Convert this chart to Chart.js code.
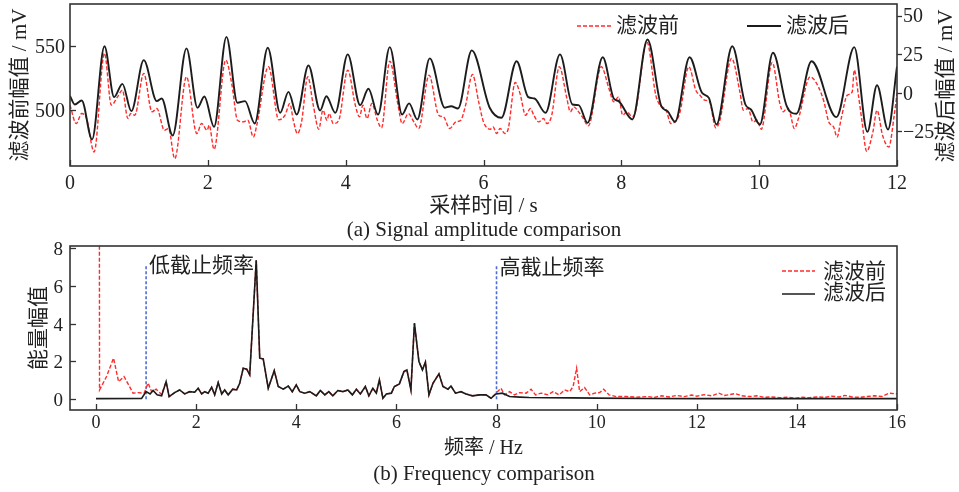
<!DOCTYPE html>
<html><head><meta charset="utf-8">
<script src="https://cdn.jsdelivr.net/npm/chart.js@4.4.1/dist/chart.umd.min.js"></script>
<style>
body{margin:0;background:#fff;width:959px;height:492px;overflow:hidden;position:relative}
canvas{position:absolute;left:0}
#c1{top:0}
#c2{top:238px}
.cap{position:absolute;width:400px;text-align:center;font-family:"Liberation Serif",serif;font-size:21px;color:#222;line-height:24px;white-space:nowrap}
</style></head><body>
<canvas id="c1" width="959" height="240"></canvas>
<canvas id="c2" width="959" height="254"></canvas>
<div class="cap" id="capA" style="left:284px;top:217px">(a) Signal amplitude comparison</div>
<div class="cap" id="capB" style="left:284px;top:461px">(b) Frequency comparison</div>
<script>
// ---------- data: (a) signal amplitude ----------
const SERIES_NAMES = ['滤波前', '滤波后'];
const TIME_FILT = [0,0.07,0.17,0.32,0.50,0.64,0.76,0.89,1.07,1.26,1.33,1.49,1.69,1.85,1.95,2.09,2.27,2.43,2.54,2.68,2.87,3.05,3.17,3.29,3.46,3.63,3.72,3.85,4.03,4.21,4.33,4.47,4.64,4.82,4.92,5.04,5.22,5.44,5.53,5.63,5.83,6.09,6.26,6.48,6.65,6.74,6.90,7.11,7.29,7.38,7.51,7.73,7.89,7.96,8.16,8.38,8.58,8.67,8.78,8.99,9.17,9.27,9.38,9.61,9.80,9.88,10.01,10.20,10.40,10.54,10.76,11.12,11.38,11.57,11.71,11.87,12.0];
const AMP_FILT = [-2,-7.6,-5,-30.3,30.2,-2.8,5.8,-11.9,21.2,-5.4,-3.7,-27.7,28.8,-9.7,-2.4,-22.1,36.3,-6.5,-5.4,-19.9,29.2,-13,0.6,-14.1,17.7,-11.5,-2.2,-13,24.9,-8,2.6,-14.1,29.6,-14.1,-6.9,-17.3,22.3,-9.7,-8.7,-10.2,27.5,-9.7,-16.2,20.5,-2.8,-3.7,-13,24.9,-7.6,-8,-19.5,23.1,-3.7,-5.4,-17.3,34.6,-8.7,-11.9,-18.8,23.1,0,-3.3,-20.6,30.2,-7.6,-10.8,-20.6,26,-8.7,-13.6,20.5,-15.8,29.6,-25.3,4.9,-23.8,17];
const TIME_RAW = [0,0.09,0.17,0.24,0.35,0.50,0.60,0.69,0.76,0.84,0.88,0.94,1.07,1.19,1.26,1.37,1.43,1.52,1.69,1.84,1.91,1.99,2.02,2.09,2.26,2.35,2.43,2.51,2.58,2.66,2.71,2.88,3.03,3.12,3.19,3.24,3.30,3.36,3.45,3.53,3.61,3.67,3.73,3.76,3.82,3.90,4.03,4.14,4.20,4.25,4.31,4.38,4.46,4.52,4.64,4.76,4.82,4.91,4.99,5.06,5.21,5.35,5.42,5.51,5.60,5.67,5.74,5.84,5.93,6.00,6.10,6.14,6.19,6.24,6.31,6.36,6.46,6.53,6.61,6.68,6.73,6.80,6.87,6.92,6.99,7.10,7.21,7.26,7.31,7.38,7.45,7.52,7.71,7.82,7.89,7.96,8.02,8.08,8.16,8.21,8.37,8.50,8.56,8.65,8.72,8.80,8.85,8.98,9.08,9.14,9.21,9.28,9.37,9.43,9.60,9.72,9.77,9.84,9.91,9.97,10.03,10.19,10.30,10.35,10.40,10.45,10.51,10.57,10.74,10.86,10.94,11.01,11.08,11.13,11.19,11.28,11.35,11.38,11.44,11.49,11.56,11.65,11.71,11.79,11.88,11.96,12.0];
const AMP_RAW = [503.9,489.6,497.4,493.5,467.6,544.1,503.9,510.3,515.6,493.5,497.4,496.1,528.6,498.7,501.3,484.4,485.8,462.4,525.9,481.9,489.7,484.4,488.3,469.7,538.9,519.5,492.2,490.9,492.2,479.2,488.3,533.7,492.5,496.1,505.2,492.2,481.9,490.9,525.9,503.9,485.2,500,492.2,497.4,489.6,492.2,531.1,503.9,494.8,503.9,493.5,505.2,492.2,486.3,538.1,503.9,489.6,497.4,490.9,485.8,527.2,496.1,494.8,485.8,490.9,492.2,503.9,527.8,506.5,490.9,485.2,487,481.9,485.8,481.9,485.8,521.5,513,496.1,501.3,496.1,490.9,493.5,489.6,496.1,533.7,509.1,498.7,502.6,498.7,493.5,487.8,533.7,516.9,506.5,510.3,496.1,498.7,494.8,500,553.1,511.7,503.9,500,489.6,492.2,498.2,533.7,515.6,511.7,507.8,506.5,486.3,492.2,540.2,514.2,500,501.3,490.9,492.2,485.2,537.1,505.2,498.7,501.3,497.4,485.8,493.5,525.9,518.1,506.5,490.9,487,479.2,493.5,511.7,514.2,531.1,511.7,492.2,468.1,483.1,500,480.6,471.4,496.1,513];
const TICKS_TIME = [0,2,4,6,8,10,12];
const TICKS_RAW = [500,550];
const TICKS_FILT = [-25,0,25,50];

// ---------- data: (b) frequency ----------
const FREQ_FILT = [0,0.91,1.0,1.08,1.14,1.22,1.31,1.40,1.46,1.57,1.67,1.77,1.87,1.97,2.04,2.11,2.17,2.24,2.31,2.37,2.44,2.51,2.57,2.64,2.73,2.81,2.87,2.94,3.01,3.07,3.20,3.27,3.34,3.44,3.56,3.64,3.74,3.84,3.92,4.00,4.07,4.17,4.27,4.40,4.48,4.57,4.65,4.73,4.83,4.93,5.03,5.12,5.20,5.28,5.38,5.45,5.53,5.60,5.66,5.73,5.80,5.90,5.96,6.06,6.15,6.21,6.29,6.36,6.45,6.52,6.58,6.65,6.73,6.85,6.93,7.03,7.09,7.18,7.29,7.39,7.52,7.66,7.79,7.89,7.99,8.12,8.26,8.46,8.65,9.0,9.5,10.0,11.0,12.0,14.0,16.0];
const ENERGY_FILT = [0.03,0.04,0.40,0.28,0.46,0.23,0.18,0.93,0.14,0.35,0.49,0.28,0.40,0.37,0.58,0.28,0.40,0.32,0.63,0.23,0.88,0.28,0.49,0.23,0.53,0.49,0.84,1.64,1.59,1.29,7.35,2.17,2.13,0.58,1.51,0.67,0.53,0.70,0.40,0.76,0.40,0.32,0.40,0.18,0.46,0.23,0.40,0.18,0.46,0.40,0.49,0.23,0.53,0.28,0.67,0.18,0.58,0.32,1.02,0.05,0.28,0.32,0.67,0.81,1.46,1.55,0.49,4.02,1.99,1.55,1.96,0.23,0.84,1.34,0.67,0.53,0.70,0.32,0.40,0.28,0.18,0.23,0.23,0.05,0.28,0.32,0.14,0.11,0.09,0.08,0.07,0.06,0.04,0.03,0.03,0.03];
const FREQ_RAW = [0.06,0.07,0.21,0.35,0.45,0.56,0.64,0.74,0.84,0.96,1.04,1.11,1.20,1.31,1.40,1.46,1.57,1.67,1.77,1.87,1.97,2.04,2.11,2.17,2.24,2.31,2.37,2.44,2.51,2.57,2.64,2.73,2.81,2.87,2.94,3.01,3.07,3.20,3.27,3.34,3.44,3.56,3.64,3.74,3.84,3.92,4.00,4.07,4.17,4.27,4.40,4.48,4.57,4.65,4.73,4.83,4.93,5.03,5.12,5.20,5.28,5.38,5.45,5.53,5.60,5.66,5.73,5.80,5.90,5.96,6.06,6.15,6.21,6.29,6.36,6.45,6.52,6.58,6.65,6.73,6.85,6.93,7.03,7.09,7.18,7.29,7.39,7.52,7.66,7.79,7.89,7.99,8.09,8.16,8.26,8.36,8.46,8.59,8.69,8.78,8.89,9.03,9.13,9.25,9.36,9.46,9.53,9.60,9.66,9.76,9.86,9.96,10.06,10.14,10.25,10.39,10.59,10.79,11.02,11.15,11.3,11.45,11.6,11.75,11.9,12.0,12.15,12.3,12.44,12.55,12.65,12.77,12.9,13.05,13.2,13.35,13.5,13.65,13.8,13.97,14.1,14.25,14.4,14.55,14.7,14.85,14.96,15.1,15.25,15.4,15.55,15.7,15.84,16.0];
const ENERGY_RAW = [30,0.49,1.2,2.17,0.93,1.2,0.81,0.32,0.35,0.32,0.85,0.40,0.53,0.25,0.93,0.14,0.35,0.49,0.28,0.40,0.37,0.58,0.28,0.40,0.32,0.63,0.23,0.88,0.28,0.49,0.23,0.53,0.49,0.84,1.64,1.59,1.29,7.35,2.17,2.13,0.58,1.51,0.67,0.53,0.70,0.40,0.76,0.40,0.32,0.40,0.18,0.46,0.23,0.40,0.18,0.46,0.40,0.49,0.23,0.53,0.28,0.67,0.18,0.58,0.32,1.02,0.05,0.28,0.32,0.67,0.81,1.46,1.55,0.49,4.02,1.99,1.55,1.96,0.23,0.84,1.34,0.67,0.53,0.70,0.32,0.40,0.28,0.18,0.23,0.23,0.05,0.32,0.58,0.23,0.40,0.23,0.35,0.32,0.53,0.23,0.32,0.23,0.40,0.23,0.49,0.40,0.67,1.64,0.40,0.62,0.23,0.32,0.35,0.53,0.23,0.14,0.14,0.11,0.14,0.10,0.18,0.12,0.20,0.14,0.22,0.16,0.24,0.18,0.32,0.20,0.24,0.30,0.18,0.14,0.18,0.10,0.12,0.08,0.10,0.06,0.10,0.08,0.12,0.10,0.16,0.12,0.20,0.12,0.10,0.14,0.18,0.14,0.32,0.28];
const TICKS_FREQ = [0,2,4,6,8,10,12,14,16];
const TICKS_ENERGY = [0,2,4,6,8];
const CUTOFF_FREQ = [1, 8];
const CUTOFF_TOP = [7.1, 7.1];
const CUTOFF_LABELS = ['低截止频率', '高截止频率'];

// ---------- helpers ----------
const pts = (xs, ys) => xs.map((x, i) => ({x: x, y: ys[i]}));
const SERIF = '"Liberation Serif", "Noto Sans CJK SC", serif';
const CJK = '"Liberation Serif", "Noto Sans CJK SC", sans-serif';
const TXT = '#222';
const RED = '#ff2b2b';
const BLK = '#1c1c1c';
const BLUE = '#4f6cd4';
const fmt = v => (v < 0 ? '\u2212' + Math.abs(v) : String(v));
const fixTicks = arr => (s => { s.ticks = arr.map(v => ({value: v})); });
const fitV = w => (s => { s.width = w; s.paddingTop = 0; s.paddingBottom = 0; });
const fitH = h => (s => { s.height = h; s.paddingLeft = 0; s.paddingRight = 0; });

const framePlugin = {
  id: 'frame',
  afterDraw(chart, args, o) {
    const {ctx, chartArea: a} = chart;
    ctx.save();
    ctx.strokeStyle = '#333';
    ctx.lineWidth = 1.6;
    ctx.strokeRect(a.left, a.top, a.right - a.left, a.bottom - a.top);
    ctx.lineWidth = 1.3;
    (o.tickScales || []).forEach(id => {
      const s = chart.scales[id];
      s.ticks.forEach(t => {
        const p = Math.round(s.getPixelForValue(t.value)) + 0.5;
        ctx.beginPath();
        if (s.isHorizontal()) { ctx.moveTo(p, a.bottom); ctx.lineTo(p, a.bottom - 6); }
        else if (s.position === 'left') { ctx.moveTo(a.left, p); ctx.lineTo(a.left + 6, p); }
        else { ctx.moveTo(a.right, p); ctx.lineTo(a.right + 5, p); }
        ctx.stroke();
      });
    });
    (o.legend || []).forEach(it => {
      const ds = chart.data.datasets[it.ds];
      ctx.beginPath();
      ctx.strokeStyle = ds.borderColor;
      ctx.lineWidth = ds.borderWidth;
      ctx.setLineDash(ds.borderDash || []);
      ctx.moveTo(it.x1, it.y); ctx.lineTo(it.x2, it.y);
      ctx.stroke();
      ctx.setLineDash([]);
      ctx.fillStyle = TXT;
      ctx.font = '21px ' + CJK;
      ctx.textBaseline = 'middle';
      ctx.textAlign = 'left';
      ctx.fillText(ds.label, it.tx, it.ty);
    });
    if (o.rightTitle) {
      ctx.save();
      ctx.translate(o.rightTitle.x, o.rightTitle.y);
      ctx.rotate(-Math.PI / 2);
      ctx.fillStyle = TXT;
      ctx.font = '21px ' + CJK;
      ctx.textAlign = 'center';
      ctx.textBaseline = 'middle';
      ctx.fillText(o.rightTitle.text, 0, 0);
      ctx.restore();
    }
    if (o.cutoffs) {
      const sx = chart.scales.x, sy = chart.scales.y;
      ctx.fillStyle = TXT;
      ctx.font = '21px ' + CJK;
      ctx.textAlign = 'left';
      ctx.textBaseline = 'middle';
      CUTOFF_FREQ.forEach((f, i) => {
        ctx.fillText(CUTOFF_LABELS[i], sx.getPixelForValue(f) + 3, sy.getPixelForValue(CUTOFF_TOP[i]) + o.cutoffs.dy[i]);
      });
    }
    ctx.restore();
  }
};

// ---------- chart (a) ----------
new Chart(document.getElementById('c1'), {
  type: 'line',
  data: {
    datasets: [
      {label: SERIES_NAMES[1], data: pts(TIME_FILT, AMP_FILT), yAxisID: 'y2', borderColor: BLK, borderWidth: 1.9, pointRadius: 0, cubicInterpolationMode: 'monotone'},
      {label: SERIES_NAMES[0], data: pts(TIME_RAW, AMP_RAW), yAxisID: 'y', borderColor: RED, borderWidth: 1.4, borderDash: [4, 2], pointRadius: 0, cubicInterpolationMode: 'monotone'}
    ]
  },
  options: {
    responsive: false, animation: false, events: [],
    layout: {padding: {top: 4, left: 0, right: 0, bottom: 0}},
    plugins: {
      legend: {display: false}, tooltip: {enabled: false},
      frame: {
        tickScales: ['x', 'y', 'y2'],
        legend: [
          {ds: 1, x1: 577, x2: 611, y: 26, tx: 616, ty: 26},
          {ds: 0, x1: 747, x2: 781, y: 26, tx: 786, ty: 26}
        ],
        rightTitle: {x: 946, y: 86, text: '滤波后幅值 / mV'}
      }
    },
    scales: {
      x: {
        type: 'linear', min: 0, max: 12,
        afterBuildTicks: fixTicks(TICKS_TIME),
        afterFit: fitH(74),
        grid: {display: false, drawTicks: false}, border: {display: false},
        ticks: {font: {family: SERIF, size: 20}, color: TXT, padding: 6, maxRotation: 0, callback: fmt},
        title: {display: true, text: '采样时间 / s', font: {family: CJK, size: 21}, color: TXT, padding: {top: 0, bottom: 21}}
      },
      y: {
        position: 'left', min: 456.7, max: 582.4,
        afterBuildTicks: fixTicks(TICKS_RAW),
        afterFit: fitV(70),
        grid: {display: false, drawTicks: false}, border: {display: false},
        ticks: {font: {family: SERIF, size: 20}, color: TXT, padding: 5, labelOffset: 1.5, callback: fmt},
        title: {display: true, text: '滤波前幅值 / mV', font: {family: CJK, size: 21}, color: TXT, padding: {top: 8, bottom: 0}}
      },
      y2: {
        position: 'right', min: -47.5, max: 57.6,
        afterBuildTicks: fixTicks(TICKS_FILT),
        afterFit: fitV(62),
        grid: {display: false, drawTicks: false}, border: {display: false},
        ticks: {font: {family: SERIF, size: 20}, color: TXT, padding: 6, labelOffset: 1.5, callback: fmt}
      }
    }
  },
  plugins: [framePlugin]
});

// ---------- chart (b) ----------
new Chart(document.getElementById('c2'), {
  type: 'line',
  data: {
    datasets: [
      {label: SERIES_NAMES[1], data: pts(FREQ_FILT, ENERGY_FILT), borderColor: BLK, borderWidth: 1.6, pointRadius: 0, tension: 0},
      {label: SERIES_NAMES[0], data: pts(FREQ_RAW, ENERGY_RAW), borderColor: RED, borderWidth: 1.4, borderDash: [4, 2], pointRadius: 0, tension: 0},
      {label: CUTOFF_LABELS[0], data: pts([CUTOFF_FREQ[0], CUTOFF_FREQ[0]], [0, CUTOFF_TOP[0]]), borderColor: BLUE, borderWidth: 1.6, borderDash: [3, 2], pointRadius: 0},
      {label: CUTOFF_LABELS[1], data: pts([CUTOFF_FREQ[1], CUTOFF_FREQ[1]], [0, CUTOFF_TOP[1]]), borderColor: BLUE, borderWidth: 1.6, borderDash: [3, 2], pointRadius: 0}
    ]
  },
  options: {
    responsive: false, animation: false, events: [],
    layout: {padding: {top: 8, left: 0, right: 62, bottom: 0}},
    plugins: {
      legend: {display: false}, tooltip: {enabled: false},
      frame: {
        tickScales: ['x', 'y'],
        legend: [
          {ds: 1, x1: 782, x2: 815, y: 33, tx: 823, ty: 34},
          {ds: 0, x1: 782, x2: 815, y: 56, tx: 823, ty: 55}
        ],
        cutoffs: {dy: [2, 4]}
      }
    },
    scales: {
      x: {
        type: 'linear', min: -0.52, max: 16,
        afterBuildTicks: fixTicks(TICKS_FREQ),
        afterFit: fitH(82),
        grid: {display: false, drawTicks: false}, border: {display: false},
        ticks: {font: {family: SERIF, size: 18}, color: TXT, padding: 2, maxRotation: 0, callback: fmt},
        title: {display: true, text: '频率 / Hz', font: {family: CJK, size: 20}, color: TXT, padding: {top: 0, bottom: 31}}
      },
      y: {
        position: 'left', min: -0.57, max: 8.1,
        afterBuildTicks: fixTicks(TICKS_ENERGY),
        afterFit: fitV(70),
        grid: {display: false, drawTicks: false}, border: {display: false},
        ticks: {font: {family: SERIF, size: 19}, color: TXT, padding: 7, labelOffset: 2, callback: fmt},
        title: {display: true, text: '能量幅值', font: {family: CJK, size: 21}, color: TXT, padding: {top: 27, bottom: 0}}
      }
    }
  },
  plugins: [framePlugin]
});
</script>
</body></html>
